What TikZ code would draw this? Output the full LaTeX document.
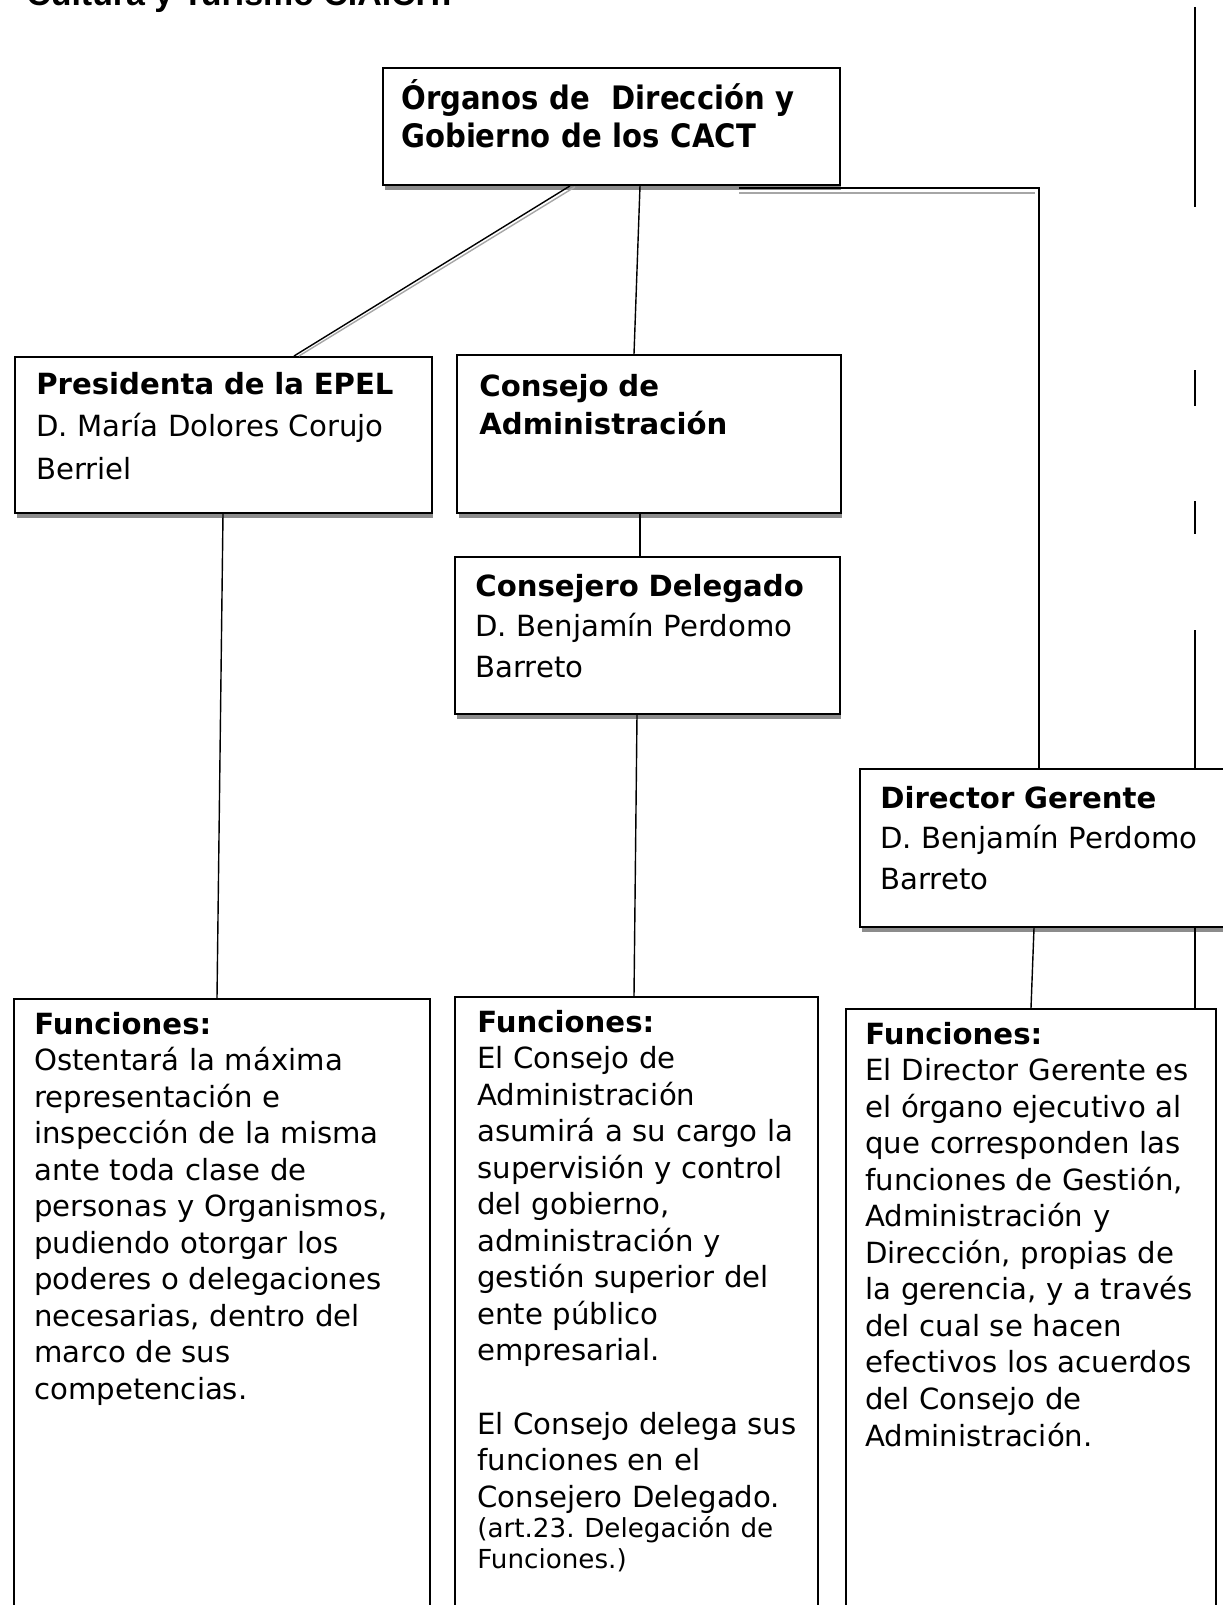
\documentclass[tikz,border=0pt]{standalone}
\usepackage{fontspec}
\setmainfont{DejaVu Sans}
\newfontfamily\condfont{DejaVu Sans Condensed}
\newfontfamily\arialfont{Liberation Sans}
\usetikzlibrary{calc,shadows}
\frenchspacing

\newcommand\cuerpo{\fontsize{16.6}{20.8}\selectfont}
\newcommand\cargoletra{\fontsize{16.6}{23.2}\selectfont}
\newcommand\pequeno{\fontsize{14.9}{17.5}\selectfont}
\newcommand\titulo{\condfont\bfseries\fontsize{18.4}{21.6}\selectfont}
\newcommand\encabezado{\arialfont\bfseries\fontsize{19.3}{23}\selectfont}

\tikzset{
  cargo/.style={draw, line width=1.1pt, fill=white, anchor=north west, inner sep=0pt,
    drop shadow={shadow xshift=0.9pt, shadow yshift=-2.8pt, fill=black!45, opacity=1}},
  funcion/.style={draw, line width=0.9pt, fill=white, anchor=north west, inner sep=0pt},
  texto/.style={anchor=base west, align=left, inner sep=0pt, text width=8cm, font=\cuerpo},
  enlace/.style={line width=0.8pt},
  sombra/.style={line width=0.8pt, black!35},
}

\begin{document}
\begin{tikzpicture}[x=0.02cm, y=-0.02cm]
\useasboundingbox (0,0) rectangle (1223,1605);

% heading, cut by the top edge
\node[anchor=base west, inner sep=0pt, font=\encabezado] (cabecera) at (26,6) {Cultura y Turismo C.A.C.T.};

% boxes of the organs
\node[cargo, minimum width=9.14cm, minimum height=2.34cm] (organos) at (382,67) {};
\node[texto, font=\titulo] (organosT) at (401,110) {Órganos de\ \ Dirección y\\Gobierno de los CACT};

\node[cargo, minimum width=8.34cm, minimum height=3.12cm] (pres) at (14,356) {};
\node[texto, font=\fontsize{16.6}{24.4}\selectfont] (presT) at (36,394) {\textbf{Presidenta de la EPEL}\\D. María Dolores Corujo\\Berriel};

\node[cargo, minimum width=7.68cm, minimum height=3.16cm] (consejo) at (456,354) {};
\node[texto, font=\fontsize{16.6}{22}\selectfont] (consejoT) at (479,396) {\textbf{Consejo de}\\\textbf{Administración}};

\node[cargo, minimum width=7.70cm, minimum height=3.14cm] (delegado) at (454,556) {};
\node[texto, font=\cargoletra] (delegadoT) at (475,596) {\textbf{Consejero Delegado}\\D. Benjamín Perdomo\\Barreto};

\node[cargo, minimum width=8.0cm, minimum height=3.16cm] (director) at (859,768) {};
\node[texto, font=\cargoletra] (directorT) at (880,808) {\textbf{Director Gerente}\\D. Benjamín Perdomo\\Barreto};

% boxes of the functions (they run past the bottom edge)
\node[funcion, minimum width=8.32cm, minimum height=14cm] (fun1) at (13,998) {};
\node[texto] (fun1T) at (34,1034) {\textbf{Funciones:}\\Ostentará la máxima\\representación e\\inspección de la misma\\ante toda clase de\\personas y Organismos,\\pudiendo otorgar los\\poderes o delegaciones\\necesarias, dentro del\\marco de sus\\competencias.};

\node[funcion, minimum width=7.26cm, minimum height=14cm] (fun2) at (454,996) {};
\node[texto] (fun2T) at (477,1032) {\textbf{Funciones:}\\El Consejo de\\Administración\\asumirá a su cargo la\\supervisión y control\\del gobierno,\\administración y\\gestión superior del\\ente público\\empresarial.\\[20.8pt]El Consejo delega sus\\funciones en el\\Consejero Delegado.\par
  {\pequeno (art.23. Delegación de\\Funciones.)\par}};

\node[funcion, minimum width=7.40cm, minimum height=14cm] (fun3) at (845,1008) {};
\node[texto] (fun3T) at (865,1044) {\textbf{Funciones:}\\El Director Gerente es\\el órgano ejecutivo al\\que corresponden las\\funciones de Gestión,\\Administración y\\Dirección, propias de\\la gerencia, y a través\\del cual se hacen\\efectivos los acuerdos\\del Consejo de\\Administración.};

% connectors
\draw[enlace] ($(organos.south west)+(188,0)$) -- ($(pres.north west)+(280,0)$);
\draw[sombra] ($(organos.south west)+(193,1)$) -- ($(pres.north west)+(285,0)$);
\draw[enlace] ($(organos.south west)+(258,0)$) -- ($(consejo.north west)+(178,0)$);
\draw[enlace] ($(organos.south west)+(357,2)$) -| ($(director.north west)+(180,0)$);
\draw[sombra] ($(organos.south west)+(357,7)$) -- ++(296,0);
\draw[enlace] ($(consejo.south west)+(184,0)$) -- ($(delegado.north west)+(186,0)$);
\draw[enlace] ($(pres.south west)+(209,0)$) -- ($(fun1.north west)+(204,0)$);
\draw[enlace] ($(delegado.south west)+(183,0)$) -- ($(fun2.north west)+(180,0)$);
\draw[enlace] ($(director.south west)+(175,0)$) -- ($(fun3.north west)+(186,0)$);

% pieces of line at the right edge
\draw[enlace] (1195,7) -- (1195,207);
\draw[enlace] (1195,370) -- (1195,406);
\draw[enlace] (1195,501) -- (1195,534);
\draw[enlace] (1195,630) -- (director.north west -| 1195,0);
\draw[enlace] (director.south west -| 1195,0) -- (fun3.north west -| 1195,0);
\end{tikzpicture}
\end{document}
